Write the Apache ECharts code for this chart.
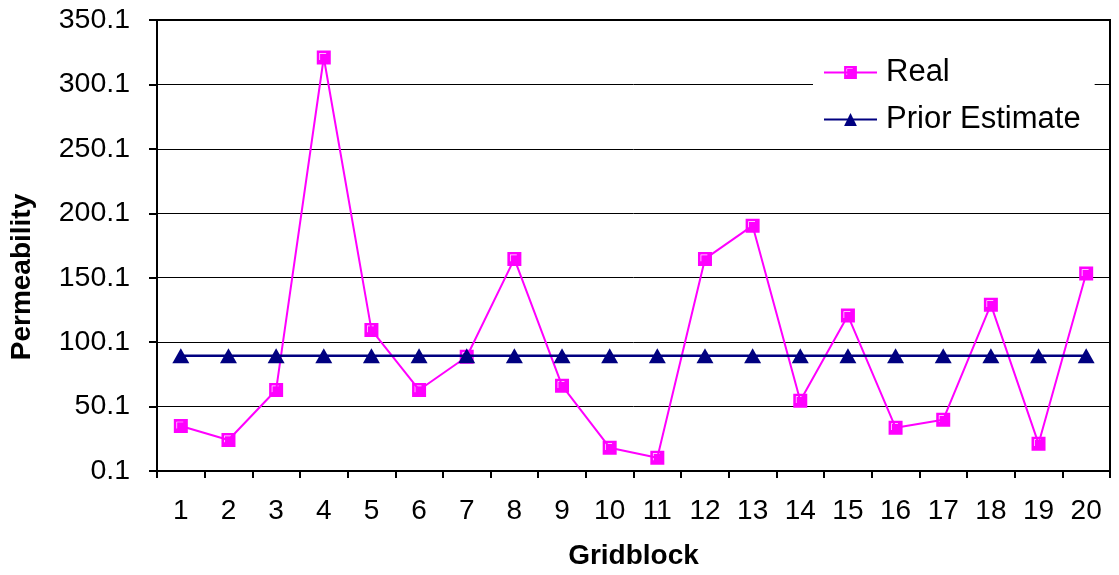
<!DOCTYPE html>
<html>
<head>
<meta charset="utf-8">
<title>Permeability by Gridblock</title>
<script src="https://cdn.jsdelivr.net/npm/echarts@6/dist/echarts.min.js"></script>
<style>
  html, body { margin: 0; padding: 0; background: #fff; }
  #chart { width: 1119px; height: 575px; }
</style>
</head>
<body>
<div id="chart"></div>
<script>
// Gridblock numbers along the x axis
const gridblocks = ['1','2','3','4','5','6','7','8','9','10','11','12','13','14','15','16','17','18','19','20'];

// Measured permeability per gridblock
const realValues = [35.0, 24.2, 63.0, 321.0, 109.6, 63.0, 88.8, 164.7, 66.3, 18.2,
                    10.4, 164.7, 190.5, 54.7, 120.7, 33.7, 39.9, 129.2, 21.3, 153.3];

// Prior estimate, constant across all gridblocks
const priorValues = [89.6, 89.6, 89.6, 89.6, 89.6, 89.6, 89.6, 89.6, 89.6, 89.6,
                     89.6, 89.6, 89.6, 89.6, 89.6, 89.6, 89.6, 89.6, 89.6, 89.6];

// Value-axis tick positions
const yTicks = [0.1, 50.1, 100.1, 150.1, 200.1, 250.1, 300.1, 350.1];

const FONT = '"Liberation Sans", Arial, sans-serif';
const MAGENTA = '#FF00FF';
const NAVY = '#000080';

// Square marker with a thin white bevel highlight in its upper-left corner
const SQUARE_MARKER = 'path://M0 0H14V14H0Z M2.6 2.6V9.4H3.3V3.3H9.4V2.6Z';

const chart = echarts.init(document.getElementById('chart'), null, { renderer: 'canvas' });

chart.setOption({
  animation: false,
  backgroundColor: '#fff',
  grid: {
    left: 157, right: 9, top: 20, bottom: 103,
    show: true, borderColor: '#000', borderWidth: 2, backgroundColor: 'transparent'
  },
  legend: {
    orient: 'vertical',
    left: 813, top: 48,
    padding: [8, 14, 8, 10],
    backgroundColor: '#fff',
    itemWidth: 53, itemHeight: 16, itemGap: 14,
    textStyle: { fontFamily: FONT, fontSize: 31, color: '#000', lineHeight: 33, padding: [0, 0, 0, 4] },
    data: ['Real', 'Prior Estimate']
  },
  xAxis: {
    type: 'category',
    data: gridblocks,
    boundaryGap: true,
    name: 'Gridblock',
    nameLocation: 'middle',
    nameGap: 71,
    nameTextStyle: { fontFamily: FONT, fontSize: 28, fontWeight: 'bold', color: '#000' },
    axisLine: { lineStyle: { color: '#000', width: 2 } },
    axisTick: { show: true, interval: 0, length: 7, lineStyle: { color: '#000', width: 2 } },
    axisLabel: { interval: 0, margin: 26, fontFamily: FONT, fontSize: 28, color: '#000' },
    splitLine: { show: false }
  },
  yAxis: {
    type: 'value',
    min: 0.1,
    max: 350.1,
    axisLine: { show: true, lineStyle: { color: '#000', width: 2 } },
    axisTick: { show: true, length: 8, customValues: yTicks, lineStyle: { color: '#000', width: 2 } },
    axisLabel: {
      margin: 27, fontFamily: FONT, fontSize: 28.5, color: '#000',
      customValues: yTicks,
      formatter: v => Number(v).toFixed(1)
    },
    splitLine: { show: true, lineStyle: { color: '#000', width: 1 } }
  },
  graphic: [{
    type: 'text',
    x: 22, y: 277,
    rotation: Math.PI / 2,
    style: {
      text: 'Permeability',
      fontFamily: FONT, fontSize: 28, fontWeight: 'bold', fill: '#000',
      align: 'center', verticalAlign: 'middle'
    }
  }],
  series: [
    {
      name: 'Real',
      type: 'line',
      data: realValues,
      symbol: SQUARE_MARKER,
      symbolSize: 14,
      showAllSymbol: true,
      lineStyle: { color: MAGENTA, width: 2 },
      itemStyle: { color: MAGENTA },
      z: 3
    },
    {
      name: 'Prior Estimate',
      type: 'line',
      data: priorValues,
      symbol: 'triangle',
      symbolSize: [17, 15],
      showAllSymbol: true,
      lineStyle: { color: NAVY, width: 2.5 },
      itemStyle: { color: NAVY },
      z: 4
    }
  ]
});
</script>
</body>
</html>
